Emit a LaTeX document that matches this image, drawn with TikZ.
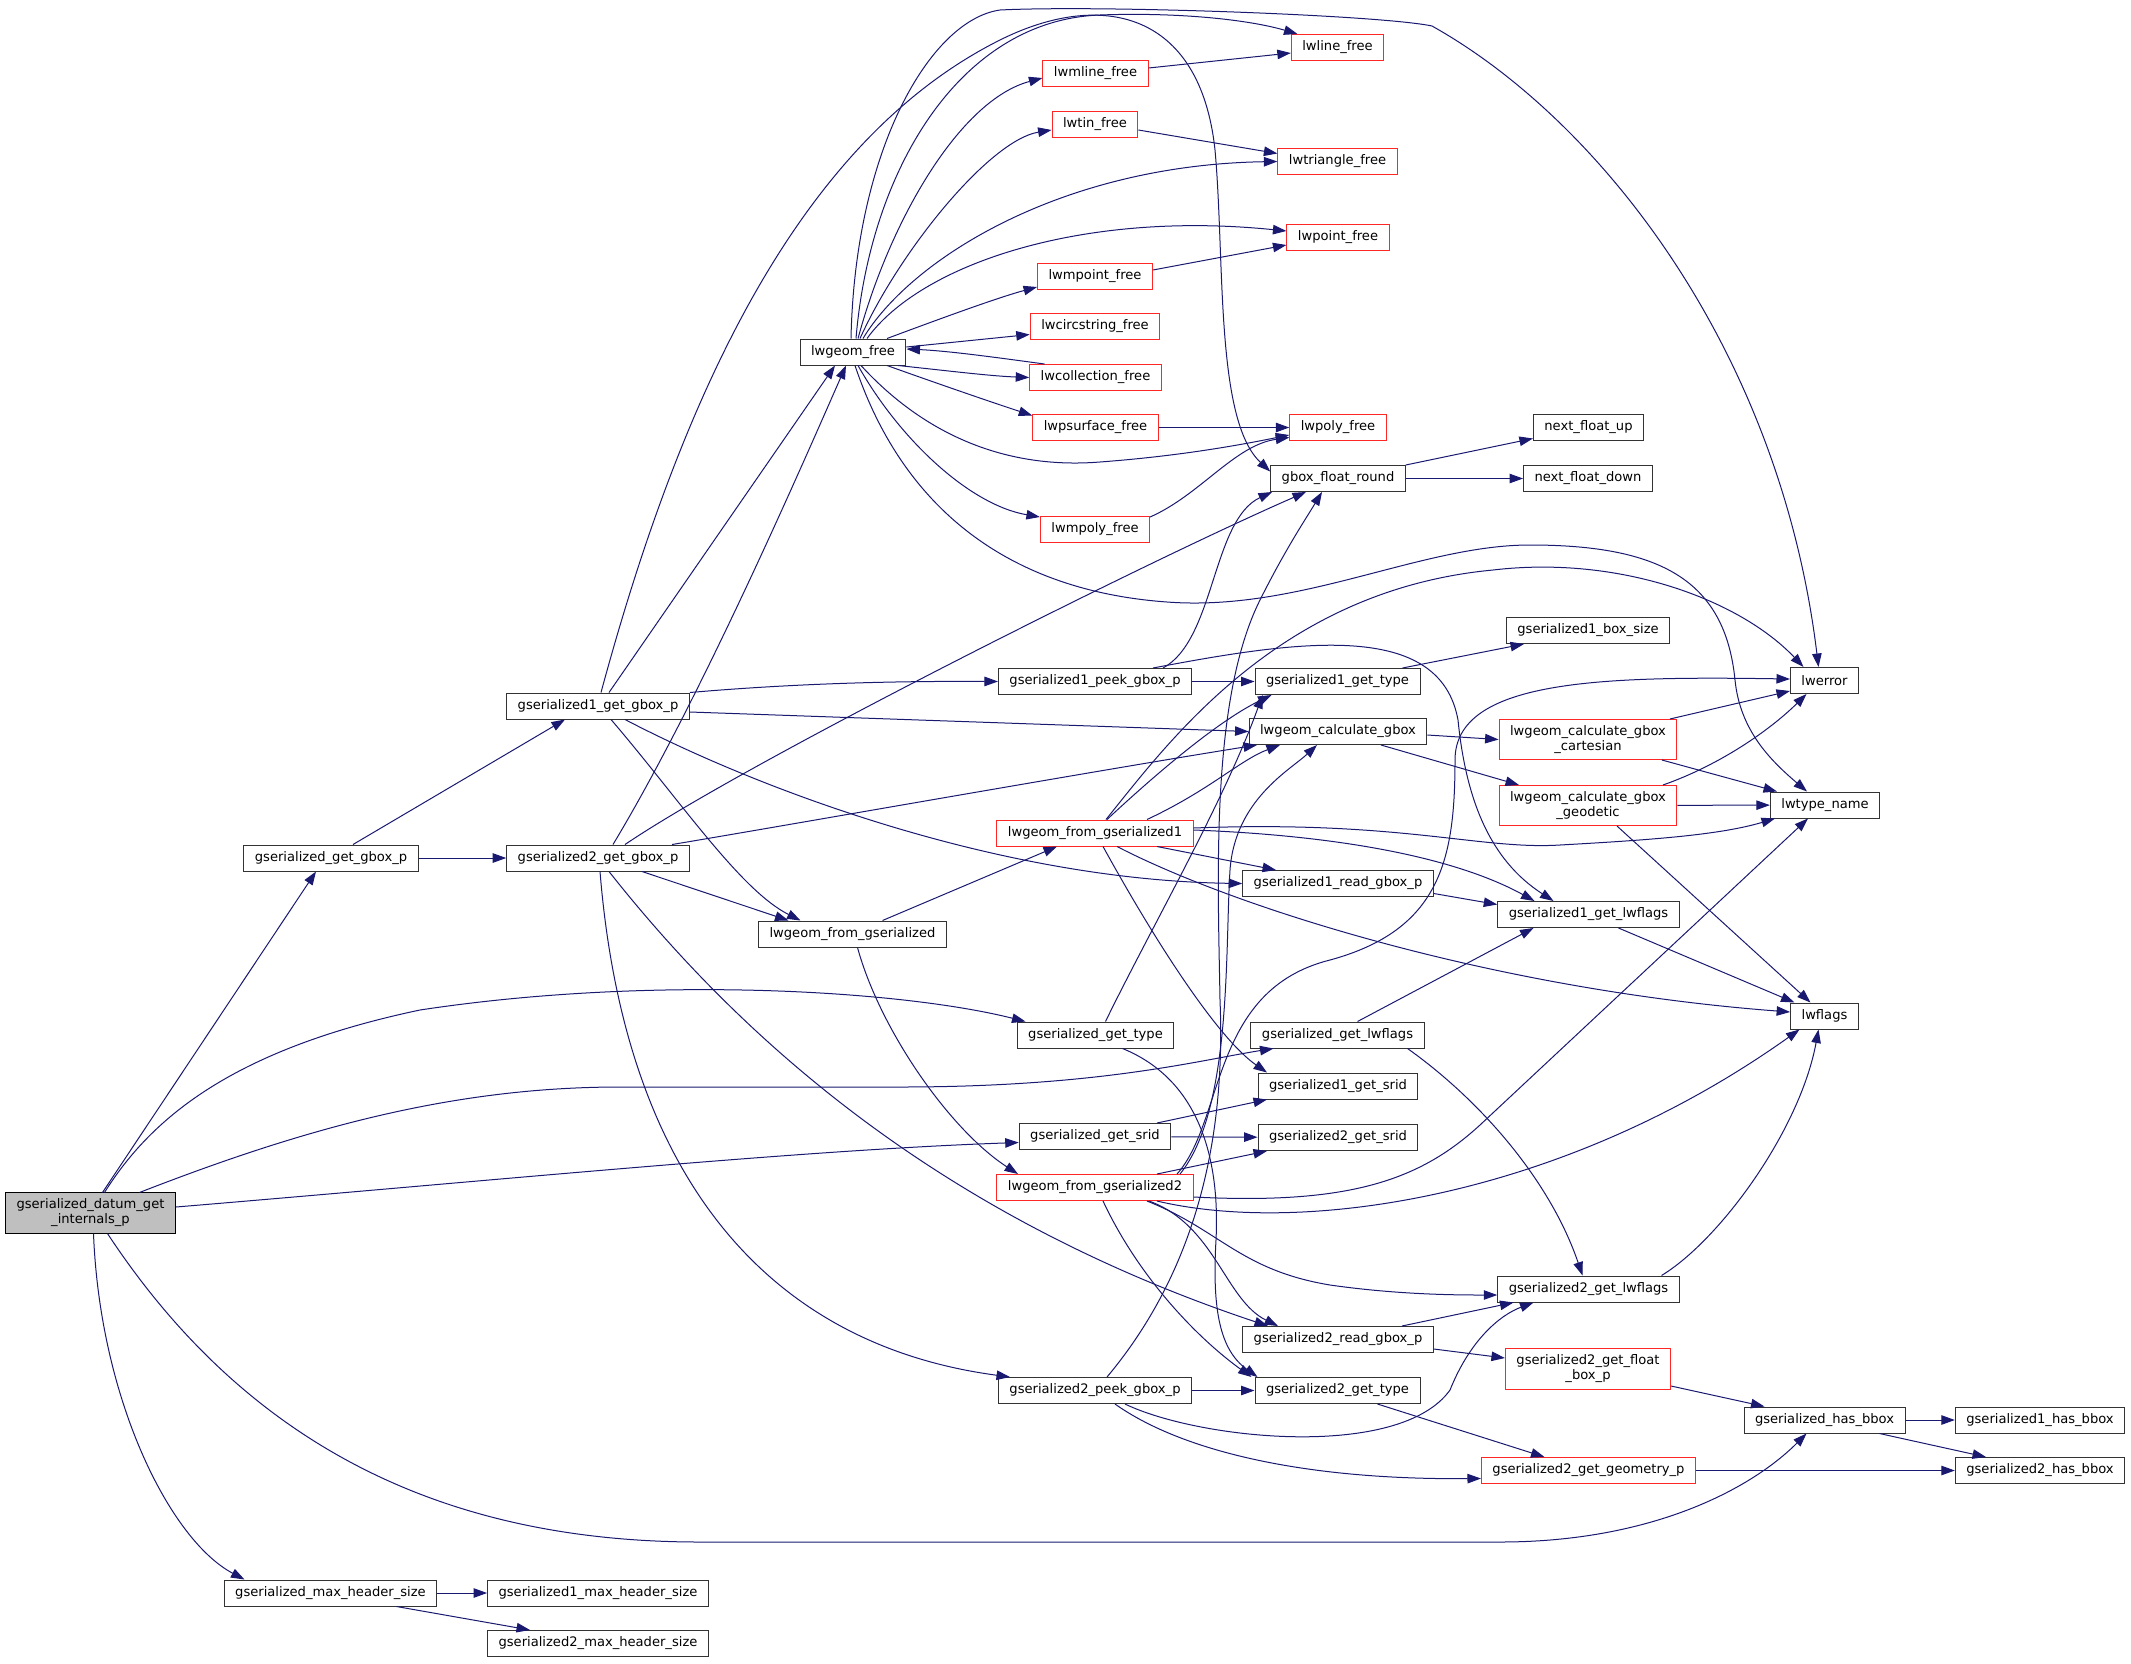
\documentclass[tikz,border=0pt]{standalone}
\usepackage{fontspec}
\setmainfont{DejaVu Sans}
\usetikzlibrary{arrows.meta}
\definecolor{edgeblue}{RGB}{25,25,112}
\definecolor{boxred}{RGB}{255,38,38}
\definecolor{rootgrey}{RGB}{191,191,191}

\begin{document}
\begin{tikzpicture}[x=1pt,y=-1pt]
                    \tikzstyle{fn}=[draw=black!80, fill=white, line width=1pt, inner xsep=11pt, inner ysep=6pt, minimum height=26pt, align=center, font=\fontsize{13.1}{15}\selectfont]
                    \tikzstyle{fnred}=[fn, draw=boxred]
                    \tikzstyle{fnroot}=[fn, fill=rootgrey, draw=black]
                    \tikzstyle{calls}=[edgeblue, line width=1pt, -{Triangle[length=13.5pt,width=9.5pt]}]
                    \useasboundingbox (0,0) rectangle (2131,1663);
                    \node[fnroot] (D) at (90.5,1213) {gserialized\_datum\_get\\\_internals\_p};
                    \node[fn] (ggbox) at (331,858) {gserialized\_get\_gbox\_p};
                    \node[fn] (g1gbox) at (598,706) {gserialized1\_get\_gbox\_p};
                    \node[fn] (g2gbox) at (598,858) {gserialized2\_get\_gbox\_p};
                    \node[fn] (maxhdr) at (330.5,1593) {gserialized\_max\_header\_size};
                    \node[fn] (max1) at (598,1593) {gserialized1\_max\_header\_size};
                    \node[fn] (max2) at (598,1643.5) {gserialized2\_max\_header\_size};
                    \node[fn] (lwfree) at (853,352) {lwgeom\_free};
                    \node[fn] (lwfromg) at (852.5,934) {lwgeom\_from\_gserialized};
                    \node[fnred] (lwmline) at (1095.5,73) {lwmline\_free};
                    \node[fnred] (lwtin) at (1095,124) {lwtin\_free};
                    \node[fnred] (lwmpoint) at (1095,276) {lwmpoint\_free};
                    \node[fnred] (lwcircstr) at (1095,326) {lwcircstring\_free};
                    \node[fnred] (lwcoll) at (1095.5,377.5) {lwcollection\_free};
                    \node[fnred] (lwpsurf) at (1095.5,427.5) {lwpsurface\_free};
                    \node[fnred] (lwmpoly) at (1095,529) {lwmpoly\_free};
                    \node[fn] (g1peek) at (1095,681.5) {gserialized1\_peek\_gbox\_p};
                    \node[fnred] (lwfromg1) at (1095,833) {lwgeom\_from\_gserialized1};
                    \node[fn] (ggettype) at (1095.5,1035) {gserialized\_get\_type};
                    \node[fn] (ggetsrid) at (1095,1136.5) {gserialized\_get\_srid};
                    \node[fnred] (lwfromg2) at (1095,1187.5) {lwgeom\_from\_gserialized2};
                    \node[fn] (g2peek) at (1095,1390.5) {gserialized2\_peek\_gbox\_p};
                    \node[fnred] (lwline) at (1337.5,47.5) {lwline\_free};
                    \node[fnred] (lwtri) at (1337.5,161.5) {lwtriangle\_free};
                    \node[fnred] (lwpoint) at (1338,237) {lwpoint\_free};
                    \node[fnred] (lwpoly) at (1338,427.5) {lwpoly\_free};
                    \node[fn] (gboxround) at (1338,478.5) {gbox\_float\_round};
                    \node[fn] (g1type) at (1337.5,681.5) {gserialized1\_get\_type};
                    \node[fn] (calcgbox) at (1338,731.5) {lwgeom\_calculate\_gbox};
                    \node[fn] (g1read) at (1338,883.5) {gserialized1\_read\_gbox\_p};
                    \node[fn] (ggetlwflags) at (1337.5,1035) {gserialized\_get\_lwflags};
                    \node[fn] (g1srid) at (1338,1086) {gserialized1\_get\_srid};
                    \node[fn] (g2srid) at (1338,1137.5) {gserialized2\_get\_srid};
                    \node[fn] (g2read) at (1338,1339.5) {gserialized2\_read\_gbox\_p};
                    \node[fn] (g2type) at (1337.5,1390.5) {gserialized2\_get\_type};
                    \node[fn] (nextup) at (1588.5,427.5) {next\_float\_up};
                    \node[fn] (nextdown) at (1588,478.5) {next\_float\_down};
                    \node[fn] (boxsize) at (1588,630.5) {gserialized1\_box\_size};
                    \node[fnred] (cart) at (1588,739.5) {lwgeom\_calculate\_gbox\\\_cartesian};
                    \node[fnred] (geod) at (1588,805.5) {lwgeom\_calculate\_gbox\\\_geodetic};
                    \node[fn] (g1lwflags) at (1588.5,914.5) {gserialized1\_get\_lwflags};
                    \node[fn] (g2lwflags) at (1588.5,1289) {gserialized2\_get\_lwflags};
                    \node[fnred] (floatbox) at (1588,1369) {gserialized2\_get\_float\\\_box\_p};
                    \node[fnred] (geomp) at (1588.5,1470.5) {gserialized2\_get\_geometry\_p};
                    \node[fn] (lwerror) at (1824.5,680.5) {lwerror};
                    \node[fn] (lwtype) at (1825,805) {lwtype\_name};
                    \node[fn] (lwflags) at (1824.5,1016) {lwflags};
                    \node[fn] (hasbbox) at (1824.5,1420) {gserialized\_has\_bbox};
                    \node[fn] (has1) at (2040,1420) {gserialized1\_has\_bbox};
                    \node[fn] (has2) at (2040,1470.5) {gserialized2\_has\_bbox};
                    \draw[calls] ([xshift=12pt]D.north) -- ([xshift=-15pt]ggbox.south);
                    \draw[calls] ([xshift=14pt]D.north) .. controls (150,1120) and (230,1050) .. (420,1010) .. controls (650,975) and (900,990) .. ([xshift=-70pt]ggettype.north);
                    \draw[calls] ([xshift=49pt]D.north) .. controls (300,1130) and (450,1087) .. (620,1087) -- (900,1087) .. controls (1100,1087) and (1200,1060) .. ([xshift=-64pt]ggetlwflags.south);
                    \draw[calls] ([yshift=6pt]D.east) .. controls (500,1180) and (800,1150) .. ([yshift=-6pt]ggetsrid.west);
                    \draw[calls] ([xshift=17pt]D.south) .. controls (250,1450) and (450,1542) .. (700,1542) -- (1500,1542) .. controls (1650,1542) and (1750,1490) .. ([xshift=-18pt]hasbbox.south);
                    \draw[calls] ([xshift=3pt]D.south) .. controls (100,1400) and (170,1540) .. ([xshift=-86pt]maxhdr.north);
                    \draw[calls] (ggbox) -- (g2gbox);
                    \draw[calls] ([xshift=22pt]ggbox.north) -- ([xshift=-33pt]g1gbox.south);
                    \draw[calls] (g1gbox.north east) .. controls (800,683) and (900,681) .. (g1peek.west);
                    \draw[calls] ([yshift=-6pt]g1gbox.east) -- (calcgbox.west);
                    \draw[calls] ([xshift=11pt]g1gbox.north) -- ([xshift=-18pt]lwfree.south);
                    \draw[calls] ([xshift=3pt]g1gbox.north) .. controls (682,393) and (800,140) .. (1000,40) .. controls (1100,-10) and (1200,10) .. (1215,150) .. controls (1225,260) and (1215,420) .. ([yshift=7pt]gboxround.west);
                    \draw[calls] ([xshift=13pt]g1gbox.south) .. controls (680,800) and (740,890) .. ([xshift=-52pt]lwfromg.north);
                    \draw[calls] ([xshift=27pt]g1gbox.south) .. controls (760,790) and (1000,880) .. (g1read.west);
                    \draw[calls] ([xshift=15pt]g2gbox.north) .. controls (700,700) and (800,470) .. ([xshift=-7pt]lwfree.south);
                    \draw[calls] ([xshift=27pt]g2gbox.north) .. controls (750,760) and (1150,560) .. ([xshift=-32pt]gboxround.south);
                    \draw[calls] ([xshift=74pt]g2gbox.north) .. controls (760,830) and (1100,770) .. ([xshift=-81pt]calcgbox.south);
                    \draw[calls] ([xshift=44pt]g2gbox.south) -- ([xshift=-64pt]lwfromg.north);
                    \draw[calls] ([xshift=11pt]g2gbox.south) .. controls (750,1050) and (950,1220) .. ([xshift=-70pt]g2read.north);
                    \draw[calls] ([xshift=2pt]g2gbox.south) .. controls (625,1180) and (770,1345) .. ([xshift=-85pt]g2peek.north);
                    \draw[calls] ([xshift=30pt]lwfromg.north) -- ([xshift=-38pt]lwfromg1.south);
                    \draw[calls] ([xshift=5pt]lwfromg.south) .. controls (880,1030) and (950,1130) .. ([xshift=-77pt]lwfromg2.north);
                    \draw[calls] ([xshift=-2pt]lwfree.north) .. controls (855,150) and (930,20) .. (1000,10) .. controls (1100,5) and (1380,15) .. (1432,26) .. controls (1600,120) and (1780,350) .. ([xshift=-6pt]lwerror.north);
                    \draw[calls] ([xshift=3pt]lwfree.north) .. controls (870,170) and (960,20) .. (1100,15) .. controls (1180,12) and (1250,20) .. ([xshift=-40pt]lwline.north);
                    \draw[calls] ([xshift=5pt]lwfree.north) .. controls (890,220) and (960,100) .. ([yshift=-5pt]lwmline.west);
                    \draw[calls] ([xshift=7pt]lwfree.north) .. controls (900,250) and (990,140) .. ([yshift=-6pt]lwtin.west);
                    \draw[calls] ([xshift=10pt]lwfree.north) .. controls (910,260) and (1060,165) .. (lwtri.west);
                    \draw[calls] ([xshift=14pt]lwfree.north) .. controls (920,265) and (1080,210) .. ([yshift=6pt]lwpoint.west);
                    \draw[calls] ([xshift=34pt]lwfree.north) .. controls (950,315) and (1000,297) .. ([yshift=-11pt]lwmpoint.west);
                    \draw[calls] ([yshift=5pt]lwfree.east) -- ([yshift=-8.5pt]lwcircstr.west);
                    \draw[calls] ([xshift=-51pt]lwcoll.north) .. controls (1000,358) and (950,351) .. ([yshift=3pt]lwfree.east);
                    \draw[calls] ([xshift=45pt]lwfree.south) .. controls (950,371) and (990,376) .. (lwcoll.west);
                    \draw[calls] ([xshift=34pt]lwfree.south) .. controls (950,388) and (1000,405) .. ([yshift=12pt]lwpsurf.west);
                    \draw[calls] ([xshift=8pt]lwfree.south) .. controls (920,430) and (1000,470) .. (1100,462) .. controls (1180,456) and (1240,445) .. ([yshift=-7.5pt]lwpoly.west);
                    \draw[calls] ([xshift=5pt]lwfree.south) .. controls (900,440) and (970,505) .. ([yshift=12pt]lwmpoly.west);
                    \draw[calls] ([xshift=2pt]lwfree.south) .. controls (900,500) and (1000,590) .. (1167,602) .. controls (1300,612) and (1420,545) .. (1530,545) .. controls (1660,545) and (1725,580) .. (1735,680) .. controls (1740,730) and (1770,760) .. ([xshift=-18pt]lwtype.north);
                    \draw[calls] ([yshift=5pt]lwmline.east) -- ([yshift=-5.5pt]lwline.west);
                    \draw[calls] ([yshift=-6pt]lwtin.east) -- ([yshift=8pt]lwtri.west);
                    \draw[calls] ([yshift=6pt]lwmpoint.east) -- ([yshift=-8pt]lwpoint.west);
                    \draw[calls] (lwpsurf) -- (lwpoly);
                    \draw[calls] ([yshift=12pt]lwmpoly.east) .. controls (1200,495) and (1235,445) .. ([yshift=-10pt]lwpoly.west);
                    \draw[calls] (gboxround.north east) -- ([yshift=-11pt]nextup.west);
                    \draw[calls] (gboxround) -- (nextdown);
                    \draw[calls] (g1peek) -- (g1type);
                    \draw[calls] ([xshift=68pt]g1peek.north) .. controls (1215,640) and (1212,520) .. ([xshift=-66pt]gboxround.south);
                    \draw[calls] ([xshift=58pt]g1peek.north) .. controls (1300,640) and (1440,620) .. (1458,720) .. controls (1466,800) and (1490,860) .. ([xshift=-35pt]g1lwflags.north);
                    \draw[calls] ([xshift=65pt]g1type.north) -- ([xshift=-64pt]boxsize.south);
                    \draw[calls] ([yshift=-3.5pt]calcgbox.east) -- (cart.west);
                    \draw[calls] ([xshift=43pt]calcgbox.south) -- ([xshift=-69pt]geod.north);
                    \draw[calls] ([xshift=82pt]cart.north) -- ([yshift=-10.5pt]lwerror.west);
                    \draw[calls] ([xshift=74pt]cart.south) -- ([xshift=-48pt]lwtype.north);
                    \draw[calls] ([xshift=75pt]geod.north) .. controls (1720,765) and (1770,730) .. ([xshift=-18pt]lwerror.south);
                    \draw[calls] (geod) -- (lwtype);
                    \draw[calls] ([xshift=29pt]geod.south) -- ([xshift=-14pt]lwflags.north);
                    \draw[calls] ([xshift=30pt]g1lwflags.south) -- ([xshift=-30pt]lwflags.north);
                    \draw[calls] ([xshift=73pt]g2lwflags.north) .. controls (1720,1240) and (1800,1130) .. ([xshift=-6pt]lwflags.south);
                    \draw[calls] ([xshift=62pt]lwfromg2.south) .. controls (1300,1235) and (1560,1200) .. ([xshift=-25pt]lwflags.south);
                    \draw[calls] ([yshift=-9.5pt]lwfromg2.east) .. controls (1350,1205) and (1420,1180) .. (1480,1125) -- ([xshift=-17pt]lwtype.south);
                    \draw[calls] ([xshift=82pt]lwfromg2.north) .. controls (1225,1120) and (1210,990) .. (1330,960) .. controls (1440,930) and (1455,860) .. (1455,760) .. controls (1455,680) and (1600,676) .. ([yshift=1.5pt]lwerror.west);
                    \draw[calls] ([xshift=85pt]lwfromg2.north) .. controls (1232,1110) and (1225,950) .. (1230,870) .. controls (1235,800) and (1290,770) .. ([xshift=-21pt]calcgbox.south);
                    \draw[calls] ([xshift=62pt]lwfromg2.north) -- ([xshift=-71pt]g2srid.south);
                    \draw[calls] ([xshift=52pt]lwfromg2.south) .. controls (1220,1230) and (1240,1270) .. (1330,1285) .. controls (1400,1295) and (1460,1295) .. ([yshift=-6pt]g2lwflags.west);
                    \draw[calls] ([xshift=54pt]lwfromg2.south) .. controls (1215,1225) and (1225,1300) .. ([xshift=-60pt]g2read.north);
                    \draw[calls] ([xshift=8pt]lwfromg2.south) .. controls (1140,1280) and (1200,1340) .. ([xshift=-86pt]g2type.north);
                    \draw[calls] ([xshift=10pt]ggettype.north) .. controls (1150,930) and (1225,800) .. ([xshift=-75pt]g1type.south);
                    \draw[calls] ([xshift=27pt]ggettype.south) .. controls (1200,1080) and (1220,1160) .. (1216,1240) .. controls (1212,1310) and (1220,1350) .. ([xshift=-80pt]g2type.north);
                    \draw[calls] ([xshift=20pt]ggetlwflags.north) -- ([xshift=-55pt]g1lwflags.south);
                    \draw[calls] ([xshift=70pt]ggetlwflags.south) .. controls (1480,1100) and (1550,1180) .. ([xshift=-6pt]g2lwflags.north);
                    \draw[calls] ([xshift=62pt]ggetsrid.north) -- ([xshift=-71pt]g1srid.south);
                    \draw[calls] (ggetsrid) -- (g2srid);
                    \draw[calls] ([xshift=8pt]lwfromg1.south) .. controls (1160,950) and (1220,1040) .. ([xshift=-71pt]g1srid.north);
                    \draw[calls] ([xshift=22pt]lwfromg1.south) .. controls (1240,910) and (1500,990) .. ([yshift=4pt]lwflags.west);
                    \draw[calls] ([xshift=62pt]lwfromg1.south) -- ([xshift=-62pt]g1read.north);
                    \draw[calls] ([yshift=3pt]lwfromg1.east) .. controls (1350,836) and (1460,860) .. ([xshift=-54pt]g1lwflags.north);
                    \draw[calls] ([yshift=5pt]lwfromg1.east) .. controls (1400,820) and (1480,850) .. (1560,845) .. controls (1650,840) and (1720,835) .. ([xshift=-50pt]lwtype.south);
                    \draw[calls] ([xshift=11pt]lwfromg1.north) .. controls (1170,740) and (1280,590) .. (1493,570) .. controls (1620,555) and (1740,600) .. ([xshift=-21pt]lwerror.north);
                    \draw[calls] ([xshift=12pt]lwfromg1.north) .. controls (1160,770) and (1220,720) .. ([xshift=-66pt]g1type.south);
                    \draw[calls] ([xshift=52pt]lwfromg1.north) .. controls (1210,790) and (1240,760) .. ([xshift=-58pt]calcgbox.south);
                    \draw[calls] (g2peek) -- (g2type);
                    \draw[calls] ([xshift=30pt]g2peek.south) .. controls (1200,1440) and (1400,1460) .. (1450,1390) .. controls (1470,1340) and (1500,1315) .. ([xshift=-55pt]g2lwflags.south);
                    \draw[calls] ([xshift=20pt]g2peek.south) .. controls (1180,1450) and (1300,1480) .. ([yshift=-8pt]geomp.west);
                    \draw[calls] ([xshift=12pt]g2peek.north) .. controls (1205,1260) and (1225,1120) .. (1220,1000) .. controls (1218,880) and (1210,700) .. (1260,600) .. controls (1285,550) and (1305,520) .. ([xshift=-16pt]gboxround.south);
                    \draw[calls] ([xshift=64pt]g2read.north) -- ([xshift=-75pt]g2lwflags.south);
                    \draw[calls] ([yshift=-9.5pt]g2read.east) -- ([yshift=11pt]floatbox.west);
                    \draw[calls] ([yshift=-17pt]floatbox.east) -- ([xshift=-60pt]hasbbox.north);
                    \draw[calls] ([xshift=40pt]g2type.south) -- ([xshift=-44pt]geomp.north);
                    \draw[calls] (geomp) -- (has2);
                    \draw[calls] (hasbbox) -- (has1);
                    \draw[calls] ([xshift=55pt]hasbbox.south) -- ([xshift=-54pt]has2.north);
                    \draw[calls] (maxhdr) -- (max1);
                    \draw[calls] ([xshift=66pt]maxhdr.south) -- ([xshift=-68pt]max2.north);
                    \draw[calls] ([yshift=-10pt]g1read.east) -- ([yshift=10pt]g1lwflags.west);
                \end{tikzpicture}
\end{document}
